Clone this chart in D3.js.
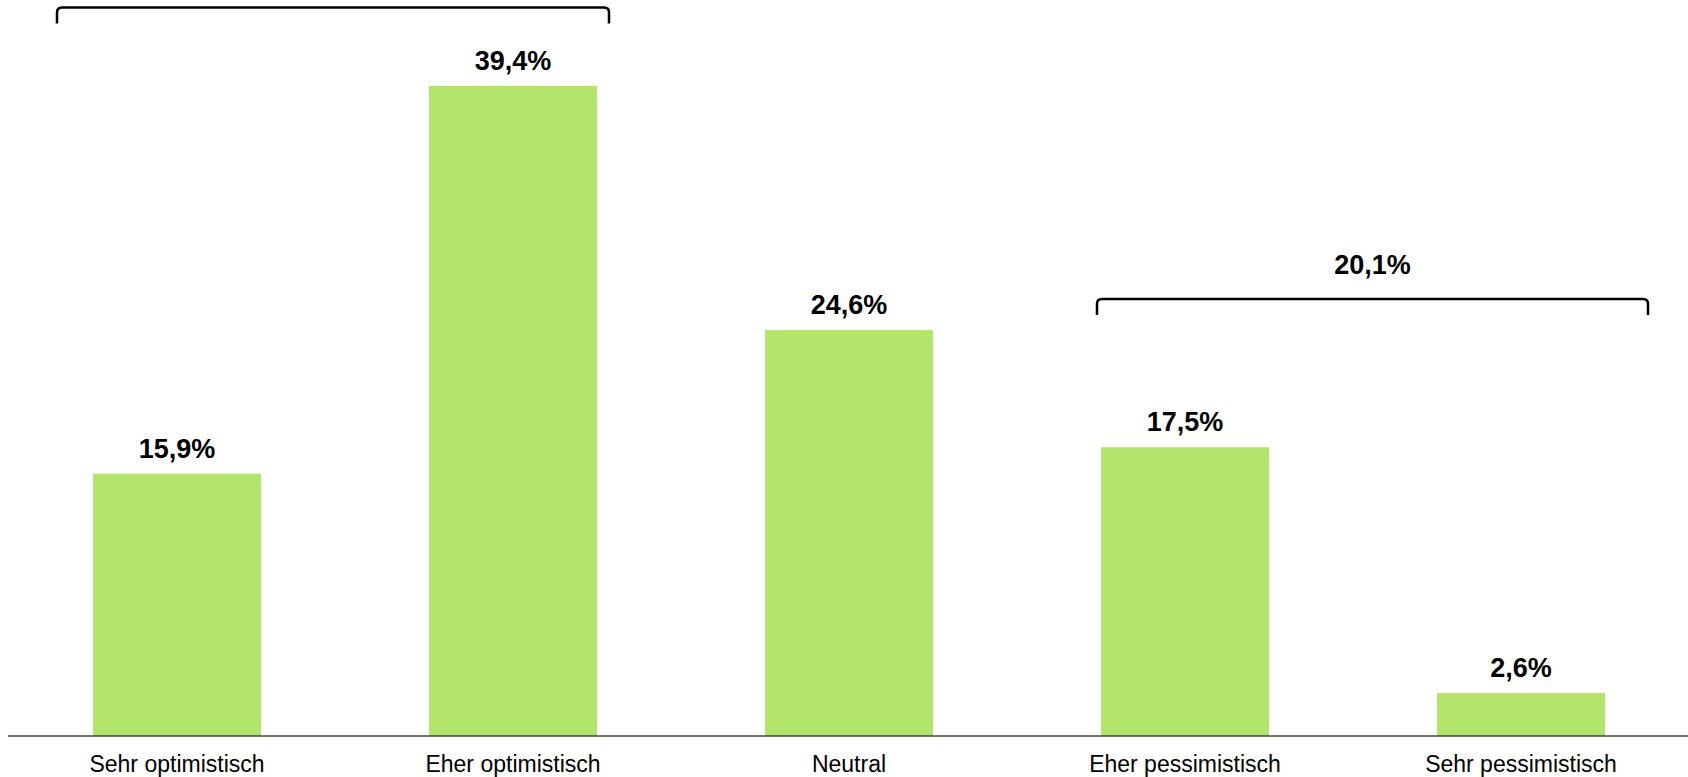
<!DOCTYPE html>
<html>
<head>
<meta charset="utf-8">
<script src="https://cdn.jsdelivr.net/npm/d3@7"></script>
<style>
  body { margin: 0; background: #fff; }
  svg { display: block; font-family: "Liberation Sans", Arial, sans-serif; }
</style>
</head>
<body>
<svg id="chart"></svg>
<script>
const categories = ["Sehr optimistisch", "Eher optimistisch", "Neutral", "Eher pessimistisch", "Sehr pessimistisch"];
const values = [15.9, 39.4, 24.6, 17.5, 2.6];
const valueLabels = ["15,9%", "39,4%", "24,6%", "17,5%", "2,6%"];
// grouped totals drawn as brackets
const groupFrom = ["Sehr optimistisch", "Eher pessimistisch"];
const groupTo = ["Eher optimistisch", "Sehr pessimistisch"];
const groupLabels = ["55,3%", "20,1%"];

const width = 1688, height = 777;
const svg = d3.select("#chart").attr("width", width).attr("height", height);

const x = d3.scaleBand().domain(categories).range([9, 1689]).paddingInner(0.5).paddingOuter(0.25);
const y = d3.scaleLinear().domain([0, 44.6]).range([736, 0]);

svg.selectAll("rect.bar")
  .data(values)
  .enter()
  .append("rect")
  .attr("class", "bar")
  .attr("x", (d, i) => x(categories[i]))
  .attr("y", d => y(d))
  .attr("width", x.bandwidth())
  .attr("height", d => y(0) - y(d))
  .attr("fill", "#b3e56b");

svg.selectAll("text.val")
  .data(values)
  .enter()
  .append("text")
  .attr("class", "val")
  .attr("x", (d, i) => x(categories[i]) + x.bandwidth() / 2)
  .attr("y", d => y(d) - 16)
  .attr("text-anchor", "middle")
  .attr("font-size", 27)
  .attr("font-weight", "bold")
  .attr("fill", "#000")
  .text((d, i) => valueLabels[i]);

// x axis: just the baseline and labels
const xAxis = svg.append("g").attr("transform", `translate(0,${y(0)})`)
  .call(d3.axisBottom(x).tickSize(0).tickPadding(20));
xAxis.select(".domain").attr("d", "M8,0H1688").attr("stroke", "#404040").attr("stroke-width", 1.5);
xAxis.selectAll(".tick text")
  .attr("font-family", "\"Liberation Sans\", Arial, sans-serif")
  .attr("font-size", 23)
  .attr("fill", "#000");

// brackets
const bracketY = [7.5, 299];
const bracketPad = [[-36, 12], [-4, 43]];
function bracketPath(x0, x1, yy) {
  const r = 5, h = 16;
  return `M${x0},${yy + h}V${yy + r}Q${x0},${yy} ${x0 + r},${yy}H${x1 - r}Q${x1},${yy} ${x1},${yy + r}V${yy + h}`;
}
groupFrom.forEach((from, i) => {
  const x0 = x(from) + bracketPad[i][0];
  const x1 = x(groupTo[i]) + x.bandwidth() + bracketPad[i][1];
  svg.append("path")
    .attr("d", bracketPath(x0, x1, bracketY[i]))
    .attr("fill", "none")
    .attr("stroke", "#000")
    .attr("stroke-width", 2.5);
  if (bracketY[i] > 40) {
    svg.append("text")
      .attr("x", (x0 + x1) / 2)
      .attr("y", bracketY[i] - 25)
      .attr("text-anchor", "middle")
      .attr("font-size", 27)
      .attr("font-weight", "bold")
      .text(groupLabels[i]);
  }
});
</script>
</body>
</html>
